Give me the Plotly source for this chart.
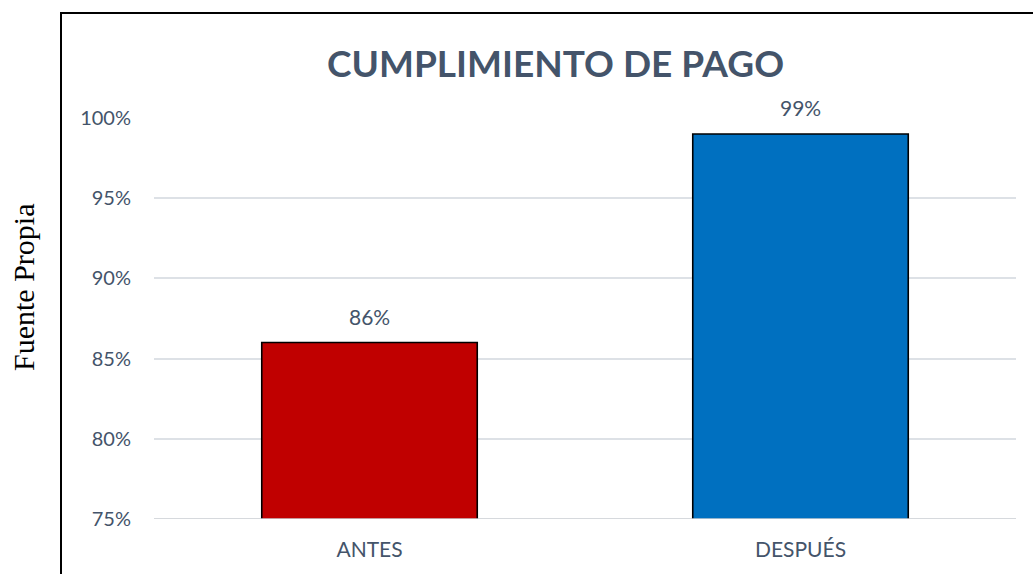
import plotly.graph_objects as go

# Payment compliance before and after
categories = ["ANTES", "DESPUÉS"]
values = [0.86, 0.99]
bar_colors = ["#C00000", "#0070C0"]
tick_values = [0.75, 0.80, 0.85, 0.90, 0.95, 1.00]
tick_labels = ["75%", "80%", "85%", "90%", "95%", "100%"]

W, H = 1033, 574
L, R, T, B = 154, 17, 118, 55
plot_w = W - L - R
plot_h = H - T - B

text_color = "#44546A"
grid_color = "#DDE1E6"
font_family = "Lato, Carlito, 'Open Sans', sans-serif"

fig = go.Figure(
    go.Bar(
        x=categories,
        y=values,
        base=0,
        width=0.5,
        marker=dict(color=bar_colors, line=dict(color="black", width=1.6)),
        cliponaxis=False,
    )
)


def px_x(p):
    return (p - L) / plot_w


def px_y(p):
    return (H - B - p) / plot_h


# value labels above each bar
value_labels = [
    dict(
        x=c, y=v, xref="x", yref="y",
        text=f"{v:.0%}",
        showarrow=False,
        yanchor="bottom",
        yshift=12,
        font=dict(size=21, color=text_color, family=font_family),
    )
    for c, v in zip(categories, values)
]

fig.update_layout(
    width=W,
    height=H,
    margin=dict(l=L, r=R, t=T, b=B),
    plot_bgcolor="white",
    paper_bgcolor="white",
    showlegend=False,
    font=dict(family=font_family, color=text_color),
    xaxis=dict(
        showgrid=False,
        showline=False,
        zeroline=False,
        ticks="",
        ticklabelstandoff=16,
        tickfont=dict(size=21, color=text_color),
    ),
    yaxis=dict(
        range=[tick_values[0], tick_values[-1]],
        tickvals=tick_values,
        ticktext=tick_labels,
        showgrid=True,
        gridcolor=grid_color,
        gridwidth=1.5,
        zeroline=False,
        showline=False,
        ticks="",
        ticklabelstandoff=22,
        tickfont=dict(size=20, color=text_color),
    ),
    annotations=value_labels + [
        dict(
            text="<b>CUMPLIMIENTO DE PAGO</b>",
            xref="paper", yref="paper",
            x=px_x(555), y=px_y(62),
            xanchor="center", yanchor="middle",
            showarrow=False,
            font=dict(size=37, color=text_color, family=font_family),
        ),
        dict(
            text="Fuente Propia",
            xref="paper", yref="paper",
            x=px_x(23), y=px_y(288),
            xanchor="center", yanchor="middle",
            textangle=-90,
            showarrow=False,
            font=dict(size=30, color="black", family="'Liberation Serif', 'Times New Roman', serif"),
        ),
    ],
    shapes=[
        # baseline drawn over the bar bottoms
        dict(
            type="line",
            xref="paper", yref="y",
            x0=0, x1=1,
            y0=tick_values[0], y1=tick_values[0],
            line=dict(color="#C8CCD2", width=1.5),
            layer="above",
        ),
        # outer frame
        dict(
            type="rect",
            xref="paper", yref="paper",
            x0=px_x(61), x1=px_x(1050),
            y0=px_y(590), y1=px_y(13),
            line=dict(color="black", width=2),
            fillcolor="rgba(0,0,0,0)",
            layer="above",
        ),
    ],
)

fig.write_html("out.html")
